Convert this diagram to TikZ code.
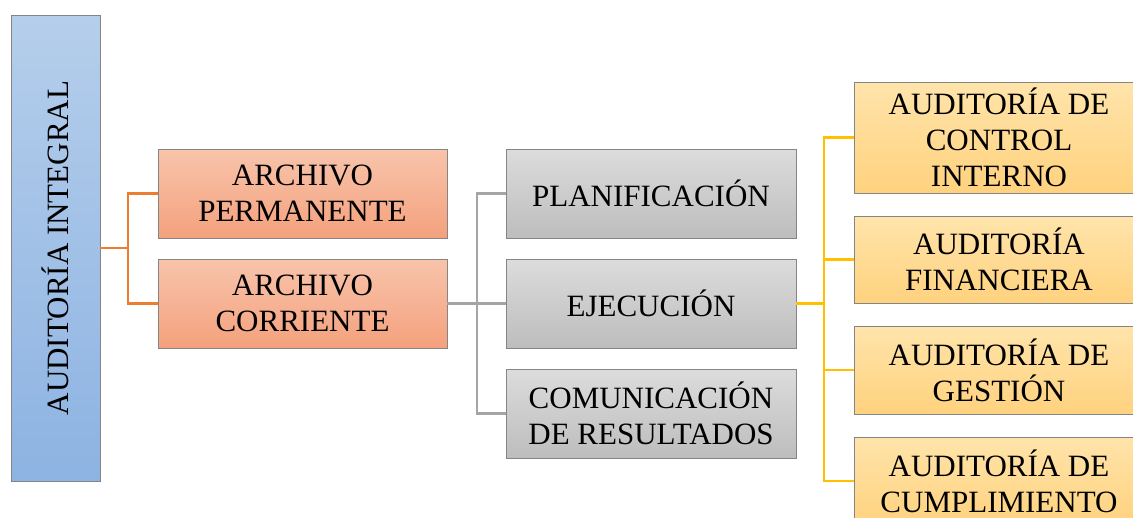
\documentclass[tikz,border=0pt]{standalone}
\usepackage{fontspec}
\setmainfont{Liberation Serif}
\usepackage{graphicx}
\definecolor{blueT}{HTML}{B5CEEB}
\definecolor{blueB}{HTML}{8DB3E2}
\definecolor{orT}{HTML}{F8C4AB}
\definecolor{orB}{HTML}{F4A17D}
\definecolor{grT}{HTML}{DCDCDC}
\definecolor{grB}{HTML}{BDBDBD}
\definecolor{yeT}{HTML}{FFE4AB}
\definecolor{yeB}{HTML}{FFD27E}
\definecolor{bord}{HTML}{858585}
\definecolor{lnO}{HTML}{ED7D31}
\definecolor{lnG}{HTML}{A5A5A5}
\definecolor{lnY}{HTML}{FFC000}
\tikzset{
  box/.style={rectangle, draw=bord, line width=0.9pt, inner sep=0pt, align=center,
    minimum width=290pt, minimum height=89pt,
    font=\fontsize{31}{36}\selectfont},
  bluebox/.style={box, top color=blueT, bottom color=blueB, minimum width=89pt, minimum height=466pt},
  orbox/.style={box, top color=orT, bottom color=orB},
  grbox/.style={box, top color=grT, bottom color=grB},
  yebox/.style={box, top color=yeT, bottom color=yeB},
  conn/.style={line width=2.4pt}
}
\begin{document}
\begin{tikzpicture}[x=1pt,y=-1pt]
\useasboundingbox (0,0) rectangle (1133,517);
\clip (0,0) rectangle (1133,517);
\node[bluebox] (ai) at (55.5,248) {\rotatebox{90}{AUDITORÍA INTEGRAL}};
\node[orbox, minimum width=289pt] (perm) at (302.5,193.5) {ARCHIVO\\PERMANENTE};
\node[orbox, minimum width=289pt] (corr) at (302.5,303.5) {ARCHIVO\\CORRIENTE};
\node[grbox] (plan) at (651,193.5) {PLANIFICACIÓN};
\node[grbox] (ejec) at (651,303.5) {EJECUCIÓN};
\node[grbox] (com) at (651,413.5) {COMUNICACIÓN\\DE RESULTADOS};
\node[yebox, minimum height=111pt] (aci) at (999,137.5) {AUDITORÍA DE\\CONTROL\\INTERNO};
\node[yebox, minimum height=87pt] (af) at (999,259.5) {AUDITORÍA\\FINANCIERA};
\node[yebox, minimum height=88pt] (ag) at (999,370) {AUDITORÍA DE\\GESTIÓN};
\node[yebox, minimum height=88pt] (ac) at (999,481) {AUDITORÍA DE\\CUMPLIMIENTO};
\coordinate (ob) at (128,248);
\coordinate (gb) at (477,303.5);
\coordinate (yb) at (824,303.5);
\draw[conn, lnO] (ai.east |- ob) -- (ob) |- (perm.west);
\draw[conn, lnO] (ob) |- (corr.west);
\draw[conn, lnG] (corr.east) -- (ejec.west);
\draw[conn, lnG] (gb) |- (plan.west);
\draw[conn, lnG] (gb) |- (com.west);
\draw[conn, lnY] (ejec.east) -- (yb);
\draw[conn, lnY] (yb) |- (aci.west);
\draw[conn, lnY] (yb) |- (af.west);
\draw[conn, lnY] (yb) |- (ag.west);
\draw[conn, lnY] (yb) |- (ac.west);
\end{tikzpicture}
\end{document}
